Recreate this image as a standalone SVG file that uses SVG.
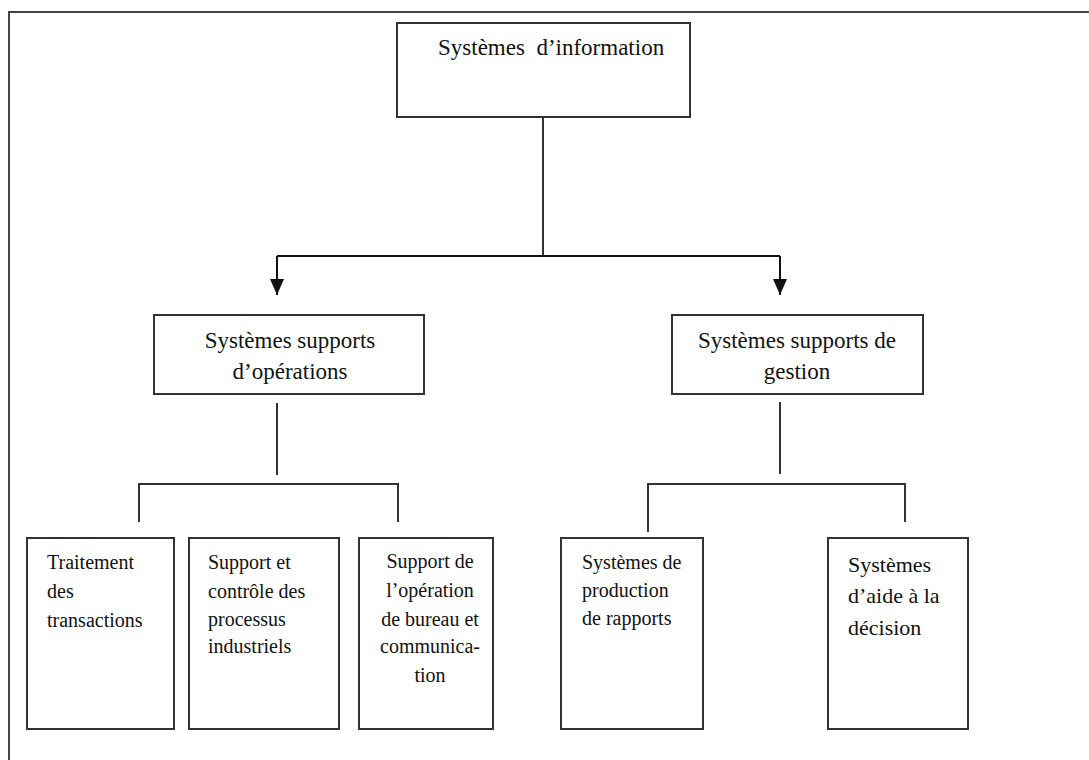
<svg xmlns="http://www.w3.org/2000/svg" width="1089" height="760" viewBox="0 0 1089 760">
  <defs>
    <marker id="arrow" viewBox="0 0 16 14" refX="16" refY="7" markerWidth="16" markerHeight="14" markerUnits="userSpaceOnUse" orient="auto">
      <path d="M0,0 L16,7 L0,14 Z" fill="#111"/>
    </marker>
  </defs>
  <style>
    .frame { fill: none; stroke: #444; stroke-width: 2; }
    .box { fill: #fff; stroke: #333; stroke-width: 2; }
    .wire { fill: none; stroke: #333; stroke-width: 2; }
    .arrow { fill: none; stroke: #111; stroke-width: 2; }
    .t { font-family: "Liberation Serif", "Times New Roman", serif; fill: #111; }
    .big { font-size: 23px; }
    .small { font-size: 20px; }
    .mid { font-size: 22px; }
    .c { text-anchor: middle; }
  </style>

  <rect width="1089" height="760" fill="#fff"/>
  <!-- page frame (left and top edges) -->
  <path class="frame" d="M9,760 V12 H1089"/>

  <!-- connectors -->
  <g id="connectors">
    <path class="wire" d="M543,117 V256"/>
    <path class="arrow" d="M277,256 H780"/>
    <path class="arrow" d="M277,256 V295" marker-end="url(#arrow)"/>
    <path class="arrow" d="M780,256 V295" marker-end="url(#arrow)"/>
    <!-- operations branch -->
    <path class="wire" d="M277,403 V475"/>
    <path class="wire" d="M139,522 V484 H398 V522"/>
    <!-- management branch -->
    <path class="wire" d="M780,402 V474"/>
    <path class="wire" d="M648,532 V484 H905 V522"/>
  </g>

  <g id="node-si">
    <rect class="box" x="397" y="23" width="293" height="94"/>
    <text class="t big" font-family="Liberation Serif" x="438" y="55" xml:space="preserve">Systèmes  d’information</text>
  </g>

  <g id="node-operations">
    <rect class="box" x="154" y="315" width="270" height="79"/>
    <text class="t big c" font-family="Liberation Serif" x="290" y="348">Systèmes supports</text>
    <text class="t big c" font-family="Liberation Serif" x="290" y="379">d’opérations</text>
  </g>

  <g id="node-gestion">
    <rect class="box" x="672" y="315" width="251" height="79"/>
    <text class="t big c" font-family="Liberation Serif" x="797" y="348">Systèmes supports de</text>
    <text class="t big c" font-family="Liberation Serif" x="797" y="379">gestion</text>
  </g>

  <g id="node-transactions">
    <rect class="box" x="27" y="538" width="147" height="191"/>
    <text class="t small" font-family="Liberation Serif" x="47" y="569">Traitement</text>
    <text class="t small" font-family="Liberation Serif" x="47" y="598">des</text>
    <text class="t small" font-family="Liberation Serif" x="47" y="627">transactions</text>
  </g>

  <g id="node-processus">
    <rect class="box" x="189" y="538" width="150" height="191"/>
    <text class="t small" font-family="Liberation Serif" x="208" y="569">Support et</text>
    <text class="t small" font-family="Liberation Serif" x="208" y="598">contrôle des</text>
    <text class="t small" font-family="Liberation Serif" x="208" y="626">processus</text>
    <text class="t small" font-family="Liberation Serif" x="208" y="653">industriels</text>
  </g>

  <g id="node-bureau">
    <rect class="box" x="359" y="538" width="134" height="191"/>
    <text class="t small c" font-family="Liberation Serif" x="430" y="568">Support de</text>
    <text class="t small c" font-family="Liberation Serif" x="430" y="597">l’opération</text>
    <text class="t small c" font-family="Liberation Serif" x="430" y="626">de bureau et</text>
    <text class="t small c" font-family="Liberation Serif" x="430" y="653">communica-</text>
    <text class="t small c" font-family="Liberation Serif" x="430" y="682">tion</text>
  </g>

  <g id="node-rapports">
    <rect class="box" x="561" y="538" width="142" height="191"/>
    <text class="t small" font-family="Liberation Serif" x="582" y="569">Systèmes de</text>
    <text class="t small" font-family="Liberation Serif" x="582" y="597">production</text>
    <text class="t small" font-family="Liberation Serif" x="582" y="625">de rapports</text>
  </g>

  <g id="node-decision">
    <rect class="box" x="828" y="538" width="140" height="191"/>
    <text class="t mid" font-family="Liberation Serif" x="848" y="572">Systèmes</text>
    <text class="t mid" font-family="Liberation Serif" x="848" y="603">d’aide à la</text>
    <text class="t mid" font-family="Liberation Serif" x="848" y="635">décision</text>
  </g>
</svg>
